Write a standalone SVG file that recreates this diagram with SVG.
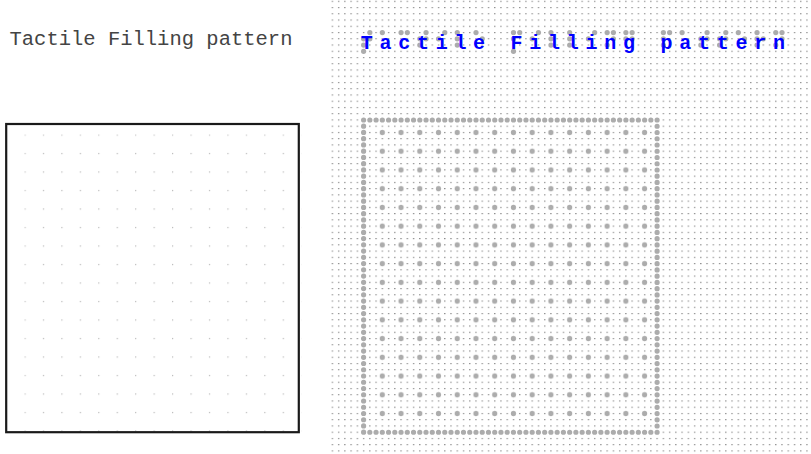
<svg xmlns="http://www.w3.org/2000/svg" width="811" height="454" viewBox="0 0 811 454">
<style>
.lbl{font-family:"Liberation Mono","Courier New",monospace;font-size:20.5px;fill:#444}
.blbl{font-family:"Liberation Mono","Courier New",monospace;font-size:20px;font-weight:bold;fill:#0000ff}
.bd{fill:#acacac}
</style>
<defs>
<pattern id="fine" patternUnits="userSpaceOnUse" x="331.65" y="119.4" width="6.245" height="6.245">
<rect x="0" y="0" width="1.4" height="1.1" fill="#8a8a8a"/>
</pattern>
<pattern id="inner" patternUnits="userSpaceOnUse" x="372.93" y="123.13" width="18.735" height="18.735">
<circle cx="9.3675" cy="9.3675" r="2.6" fill="#acacac"/>
</pattern>
<pattern id="leftdots" patternUnits="userSpaceOnUse" x="24.4" y="134.4" width="18.45" height="18.5">
<rect x="0" y="0" width="1.2" height="1.2" fill="#b8b8b8"/>
</pattern>
</defs>
<rect width="811" height="454" fill="#fff"/>

<g id="visual-title">
<text class="lbl" x="9.5" y="45">Tactile Filling pattern</text>
</g>
<g id="visual-box">
<rect x="24.4" y="134.4" width="276.75" height="298" fill="url(#leftdots)"/>
<rect x="6.2" y="124" width="292.6" height="308.2" fill="none" stroke="#1a1a1a" stroke-width="2.2"/>
</g>

<g id="tactile-grid">
<rect x="330" y="0" width="481" height="454" fill="url(#fine)"/>
</g>
<g id="tactile-box">
<rect x="372.93" y="123.13" width="281" height="299.76" fill="url(#inner)"/>
<path d="M363.6,120 H657.1 V432.25 H363.6 Z" fill="none" stroke="#acacac" stroke-width="5.2" stroke-linecap="round" stroke-dasharray="0 6.245"/>
</g>
<g id="tactile-title">
<g id="braille">
<circle class="bd" cx="363.6" cy="38.82" r="2.6"/><circle class="bd" cx="363.6" cy="45.06" r="2.6"/><circle class="bd" cx="369.85" cy="32.57" r="2.6"/><circle class="bd" cx="369.85" cy="38.82" r="2.6"/><circle class="bd" cx="363.6" cy="51.31" r="2.6"/>
<circle class="bd" cx="382.34" cy="32.57" r="2.6"/>
<circle class="bd" cx="401.07" cy="32.57" r="2.6"/><circle class="bd" cx="407.32" cy="32.57" r="2.6"/>
<circle class="bd" cx="419.81" cy="38.82" r="2.6"/><circle class="bd" cx="419.81" cy="45.06" r="2.6"/><circle class="bd" cx="426.05" cy="32.57" r="2.6"/><circle class="bd" cx="426.05" cy="38.82" r="2.6"/>
<circle class="bd" cx="438.54" cy="38.82" r="2.6"/><circle class="bd" cx="444.79" cy="32.57" r="2.6"/>
<circle class="bd" cx="457.28" cy="32.57" r="2.6"/><circle class="bd" cx="457.28" cy="38.82" r="2.6"/><circle class="bd" cx="457.28" cy="45.06" r="2.6"/>
<circle class="bd" cx="476.01" cy="32.57" r="2.6"/><circle class="bd" cx="482.26" cy="38.82" r="2.6"/>
<circle class="bd" cx="513.48" cy="32.57" r="2.6"/><circle class="bd" cx="513.48" cy="38.82" r="2.6"/><circle class="bd" cx="519.73" cy="32.57" r="2.6"/><circle class="bd" cx="513.48" cy="51.31" r="2.6"/>
<circle class="bd" cx="532.22" cy="38.82" r="2.6"/><circle class="bd" cx="538.46" cy="32.57" r="2.6"/>
<circle class="bd" cx="550.95" cy="32.57" r="2.6"/><circle class="bd" cx="550.95" cy="38.82" r="2.6"/><circle class="bd" cx="550.95" cy="45.06" r="2.6"/>
<circle class="bd" cx="569.69" cy="32.57" r="2.6"/><circle class="bd" cx="569.69" cy="38.82" r="2.6"/><circle class="bd" cx="569.69" cy="45.06" r="2.6"/>
<circle class="bd" cx="588.42" cy="38.82" r="2.6"/><circle class="bd" cx="594.67" cy="32.57" r="2.6"/>
<circle class="bd" cx="607.16" cy="32.57" r="2.6"/><circle class="bd" cx="607.16" cy="45.06" r="2.6"/><circle class="bd" cx="613.4" cy="32.57" r="2.6"/><circle class="bd" cx="613.4" cy="38.82" r="2.6"/>
<circle class="bd" cx="625.89" cy="32.57" r="2.6"/><circle class="bd" cx="625.89" cy="38.82" r="2.6"/><circle class="bd" cx="632.14" cy="32.57" r="2.6"/><circle class="bd" cx="632.14" cy="38.82" r="2.6"/>
<circle class="bd" cx="663.36" cy="32.57" r="2.6"/><circle class="bd" cx="663.36" cy="38.82" r="2.6"/><circle class="bd" cx="663.36" cy="45.06" r="2.6"/><circle class="bd" cx="669.61" cy="32.57" r="2.6"/>
<circle class="bd" cx="682.1" cy="32.57" r="2.6"/>
<circle class="bd" cx="700.83" cy="38.82" r="2.6"/><circle class="bd" cx="700.83" cy="45.06" r="2.6"/><circle class="bd" cx="707.08" cy="32.57" r="2.6"/><circle class="bd" cx="707.08" cy="38.82" r="2.6"/>
<circle class="bd" cx="719.57" cy="38.82" r="2.6"/><circle class="bd" cx="719.57" cy="45.06" r="2.6"/><circle class="bd" cx="725.81" cy="32.57" r="2.6"/><circle class="bd" cx="725.81" cy="38.82" r="2.6"/>
<circle class="bd" cx="738.3" cy="32.57" r="2.6"/><circle class="bd" cx="744.55" cy="38.82" r="2.6"/>
<circle class="bd" cx="757.04" cy="32.57" r="2.6"/><circle class="bd" cx="757.04" cy="38.82" r="2.6"/><circle class="bd" cx="757.04" cy="45.06" r="2.6"/><circle class="bd" cx="763.28" cy="38.82" r="2.6"/>
<circle class="bd" cx="775.77" cy="32.57" r="2.6"/><circle class="bd" cx="775.77" cy="45.06" r="2.6"/><circle class="bd" cx="782.02" cy="32.57" r="2.6"/><circle class="bd" cx="782.02" cy="38.82" r="2.6"/>
</g>
<text class="blbl" text-anchor="middle" y="49" x="366.72 385.46 404.19 422.93 441.66 460.4 479.13 497.87 516.6 535.34 554.07 572.81 591.54 610.28 629.01 647.75 666.48 685.22 703.95 722.69 741.42 760.16 778.89">Tactile Filling pattern</text>
</g>
</svg>
